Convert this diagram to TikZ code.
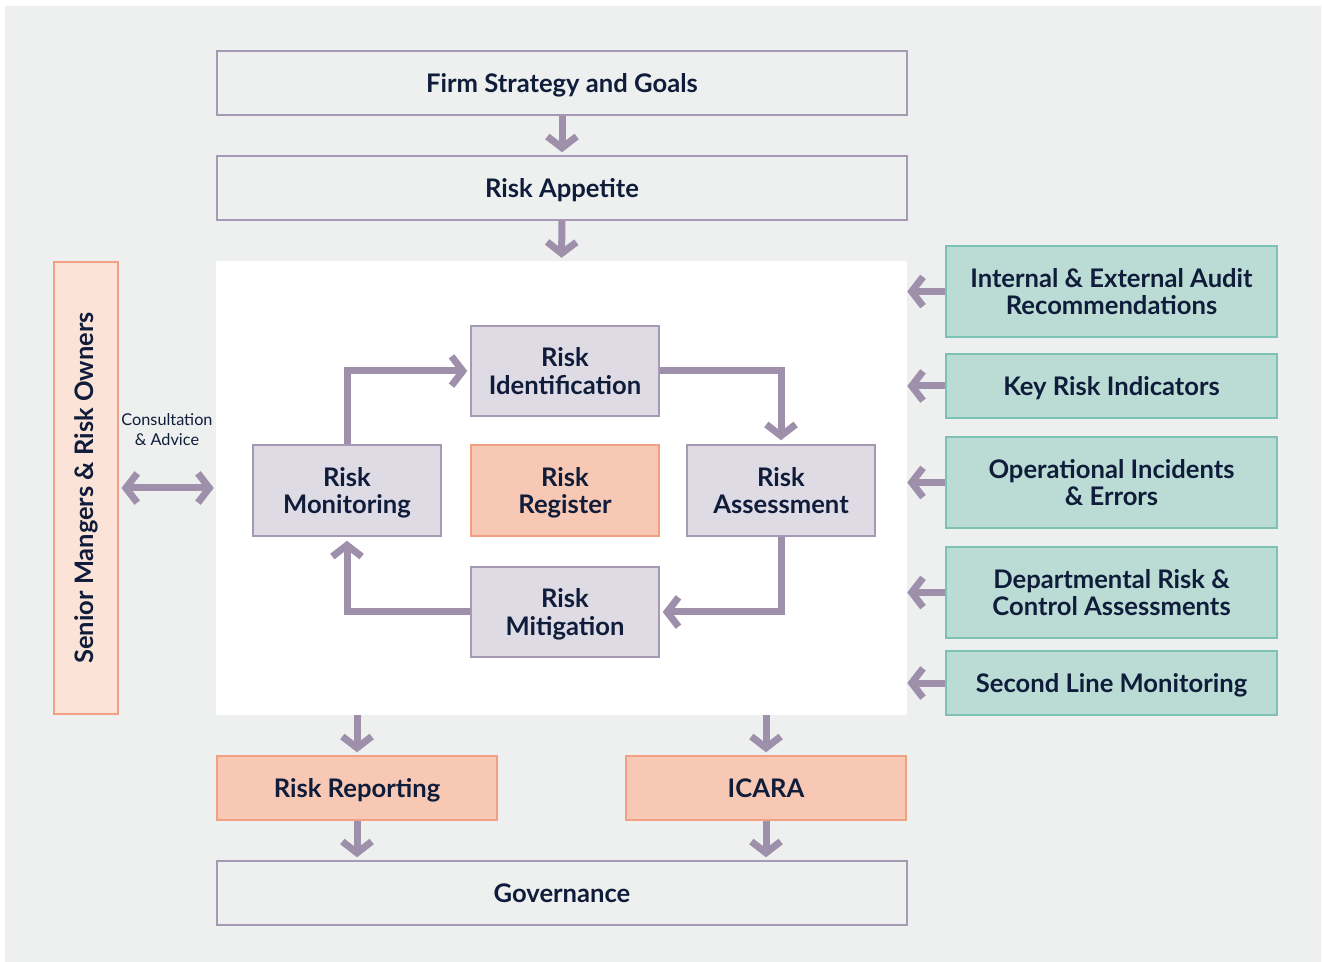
\documentclass[tikz,border=0pt]{standalone}
\usepackage{fontspec}
\setmainfont{Lato}
\usetikzlibrary{arrows.meta}
\definecolor{bgc}{HTML}{EEF0EF}
\definecolor{arrc}{HTML}{9E8FAB}
\definecolor{lilacline}{HTML}{A699B3}
\definecolor{lilac}{HTML}{DEDBE5}
\definecolor{salmon}{HTML}{F7C9B4}
\definecolor{salmonline}{HTML}{F2A084}
\definecolor{palesalmon}{HTML}{FBE3D8}
\definecolor{teal}{HTML}{BADCD5}
\definecolor{tealline}{HTML}{7CC3B3}
\definecolor{txt}{HTML}{0F1C3A}
\begin{document}
\begin{tikzpicture}[x=0.75pt,y=-0.75pt,
  sz/.style 2 args={minimum width=#1*0.75pt, minimum height=#2*0.75pt},
  base/.style={rectangle, inner sep=0pt, align=center, text=txt, line width=1.2pt,
    text depth=0pt, font=\fontsize{19.2}{20.4}\selectfont\bfseries},
  greybox/.style={base, draw=lilacline, fill=bgc},
  lilacbox/.style={base, draw=lilacline, fill=lilac},
  salmonbox/.style={base, draw=salmonline, fill=salmon},
  tealbox/.style={base, draw=tealline, fill=teal},
  arr/.style={draw=arrc, line width=5.25pt, -{Straight Barb[length=8.5pt,width=22pt]}},
  darr/.style={draw=arrc, line width=5.25pt, {Straight Barb[length=8.5pt,width=22pt]}-{Straight Barb[length=8.5pt,width=22pt]}}
]
\useasboundingbox (0,0) rectangle (1322,962);
\fill[bgc] (5,6) rectangle (1321,962);
\node[rectangle, fill=white, sz={691}{454}, inner sep=0pt] (panel) at (561.5,488) {};

\node[greybox, sz={690}{64}] (firm) at (562,83) {Firm Strategy and Goals};
\node[greybox, sz={690}{64}] (appetite) at (562,188) {Risk Appetite};
\node[greybox, sz={690}{64}] (gov) at (562,893) {Governance};

\node[base, draw=salmonline, fill=palesalmon, sz={64}{452}] (senior) at (86,488) {};
\node[text=txt, rotate=90, font=\fontsize{19.1}{22}\selectfont\bfseries] (seniortxt) at (senior.center) {Senior Mangers \& Risk Owners};
\node[text=txt, align=center, font=\fontsize{12.2}{15}\selectfont] (consult) at (167,430) {Consultation\\\& Advice};

\node[lilacbox, sz={188}{90}] (ident) at (565,371) {Risk\\Identification};
\node[lilacbox, sz={188}{91}] (monit) at (347,490.5) {Risk\\Monitoring};
\node[salmonbox, sz={188}{91}] (regis) at (565,490.5) {Risk\\Register};
\node[lilacbox, sz={188}{91}] (assess) at (781,490.5) {Risk\\Assessment};
\node[lilacbox, sz={188}{90}] (mitig) at (565,612) {Risk\\Mitigation};

\node[tealbox, sz={331}{91}] (audit) at (1111.5,291.5) {Internal \& External Audit\\Recommendations};
\node[tealbox, sz={331}{64}] (kri) at (1111.5,386) {Key Risk Indicators};
\node[tealbox, sz={331}{91}] (ops) at (1111.5,482.5) {Operational Incidents\\\& Errors};
\node[tealbox, sz={331}{91}] (dept) at (1111.5,592.5) {Departmental Risk \&\\Control Assessments};
\node[tealbox, sz={331}{64}] (second) at (1111.5,683) {Second Line Monitoring};

\node[salmonbox, sz={280}{64}] (report) at (357,788) {Risk Reporting};
\node[salmonbox, sz={280}{64}] (icara) at (766,788) {ICARA};

% vertical flow
\draw[arr, shorten >=2.2pt] (firm.south) -- (appetite.north);
\draw[arr, shorten >=2.2pt] (appetite.south) -- (panel.north);
\draw[arr, shorten >=2.2pt] (report.north |- panel.south) -- (report.north);
\draw[arr, shorten >=2.2pt] (icara.north |- panel.south) -- (icara.north);
\draw[arr, shorten >=2.2pt] (report.south) -- (report.south |- gov.north);
\draw[arr, shorten >=2.2pt] (icara.south) -- (icara.south |- gov.north);

% inputs
\foreach \n in {audit,kri,ops,dept,second}
  \draw[arr] (\n.west) -- (\n.west -| panel.east);

% consultation
\draw[darr, shorten <=2pt, shorten >=1.5pt] (senior.east) -- (senior.east -| panel.west);

% cycle
\draw[arr, shorten >=2.2pt] (monit.north) |- (ident.west);
\draw[arr, shorten >=3pt] (ident.east) -| (assess.north);
\draw[arr, shorten >=2.2pt] (assess.south) |- (mitig.east);
\draw[arr, shorten >=3pt] (mitig.west) -| (monit.south);
\end{tikzpicture}
\end{document}
